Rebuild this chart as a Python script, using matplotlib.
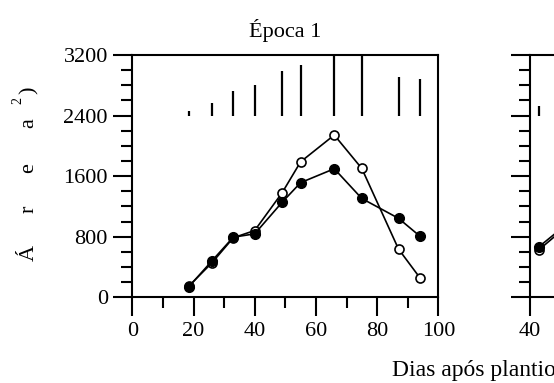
import matplotlib
matplotlib.use("Agg")
import matplotlib.pyplot as plt
import numpy as np
from matplotlib.ticker import MultipleLocator

plt.rcParams["font.family"] = ["Liberation Serif", "DejaVu Serif"]

# Época 1 (painel esquerdo)
dias = [18.5, 26, 33, 40, 49, 55, 66, 75, 87, 94]
area_cheio = [140, 480, 794, 838, 1257, 1514, 1698, 1305, 1043, 807]
area_vazio = [150, 454, 786, 882, 1383, 1789, 2143, 1702, 637, 257]
barras_topo = [2466, 2572, 2730, 2809, 2994, 3073, 3400, 3400, 2915, 2888]
BARRA_BASE = 2400

# painel direito (cortado na figura)
dias2 = [43, 50]
area_cheio2 = [670, 900]
area_vazio2 = [630, 870]
barras_topo2 = [2530]

W, H = 554, 383
fig = plt.figure(figsize=(W / 100, H / 100), dpi=100)
fig.patch.set_facecolor("white")


def px(x0, y0, x1, y1):
    return [x0 / W, 1 - y1 / H, (x1 - x0) / W, (y1 - y0) / H]


def estilo(ax, xmin, xmax):
    ax.set_xlim(xmin, xmax)
    ax.set_ylim(0, 3200)
    ax.xaxis.set_major_locator(MultipleLocator(20))
    ax.xaxis.set_minor_locator(MultipleLocator(10))
    ax.yaxis.set_major_locator(MultipleLocator(800))
    ax.yaxis.set_minor_locator(MultipleLocator(200))
    ax.tick_params(which="major", direction="out", length=13.5, width=1.5,
                   labelsize=16, top=False, right=False, pad=4)
    ax.tick_params(which="minor", direction="out", length=8, width=1.5,
                   top=False, right=False)
    for s in ax.spines.values():
        s.set_linewidth(1.5)


def desenha(ax, x, cheio, vazio, topo):
    ax.vlines(x[:len(topo)], BARRA_BASE, topo, color="black", linewidth=1.6)
    ax.plot(x, vazio, color="black", linewidth=1.2, marker="o", markersize=6.5,
            markerfacecolor="white", markeredgecolor="black", markeredgewidth=1.2,
            zorder=3)
    ax.plot(x, cheio, color="black", linewidth=1.2, marker="o", markersize=7,
            markerfacecolor="black", markeredgecolor="black", zorder=4)


ax1 = fig.add_axes(px(132.3, 55, 438.3, 297.3))
estilo(ax1, 0, 100)
desenha(ax1, dias, area_cheio, area_vazio, barras_topo)
ax1.set_title("Época 1", fontsize=16, pad=13)

ax2 = fig.add_axes(px(530, 55, 836, 297.3))
estilo(ax2, 40, 140)
ax2.set_xticks([40])
ax2.tick_params(axis="y", labelleft=False)
desenha(ax2, dias2, area_cheio2, area_vazio2, barras_topo2)

# rótulo do eixo y (letras espaçadas, como no original)
for ch, y in [("Á", 253), ("r", 209), ("e", 168), ("a", 123), (")", 90)]:
    fig.text(29 / W, 1 - y / H, ch, rotation=90, ha="center", va="center",
             fontsize=16)
fig.text(18 / W, 1 - 100 / H, "2", rotation=90, ha="center", va="center",
         fontsize=10)

fig.text(392 / W, 1 - 376 / H, "Dias após plantio", ha="left",
         va="baseline", fontsize=17)

fig.savefig("out.png", dpi=100, facecolor="white")
